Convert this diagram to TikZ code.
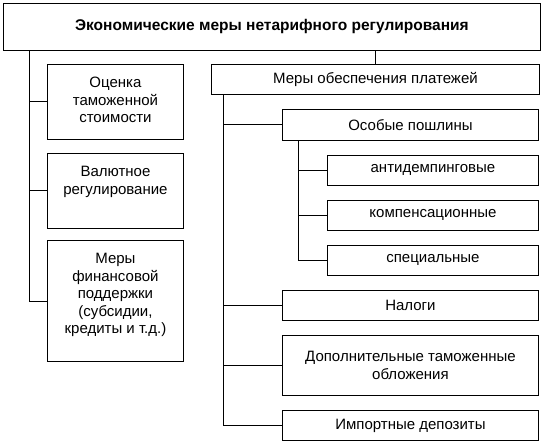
\documentclass[tikz,border=0pt]{standalone}
\usepackage{fontspec}
\setmainfont{Liberation Sans}
\usepackage{tikz}
\usetikzlibrary{positioning}

\tikzset{
  box/.style={draw, line width=0.9pt, anchor=north west, align=center, inner sep=2pt,
    font=\fontsize{15}{17.5}\selectfont},
  lbox/.style={box, minimum width=136},
  ltext/.style={anchor=north, align=center, yshift=-11pt, inner sep=2pt,
    font=\fontsize{15}{17.5}\selectfont},
  link/.style={line width=0.9pt}
}

\begin{document}
\begin{tikzpicture}[x=1pt,y=-1pt]
      \useasboundingbox (0,0) rectangle (543,446);
      % top
      \node[box, minimum width=537, minimum height=47, font=\fontsize{15.5}{17}\selectfont\bfseries] (top) at (3,3)
        {Экономические меры нетарифного регулирования};
      % left column
      \node[lbox, minimum height=75, label={[ltext]north:{Оценка\\ таможенной\\ стоимости}}] (ocen) at (47,64) {};
      \node[lbox, minimum height=75, label={[ltext]north:{Валютное\\ регулирование}}] (val) at (47,153) {};
      \node[lbox, minimum height=121,
        label={[ltext]north:{Меры\\ финансовой\\ поддержки\\ (субсидии,\\ кредиты и т.д.)}}] (fin) at (47,240) {};
      % right column
      \node[box, minimum width=328, minimum height=30] (mery) at (211,64) {Меры обеспечения платежей};
      \node[box, minimum width=256, minimum height=31] (posh) at (282,109) {Особые пошлины};
      \node[box, minimum width=211, minimum height=30] (anti) at (327,155) {антидемпинговые};
      \node[box, minimum width=211, minimum height=30] (komp) at (327,200) {компенсационные};
      \node[box, minimum width=211, minimum height=30] (spec) at (327,245) {специальные};
      \node[box, minimum width=256, minimum height=30] (nalo) at (282,290) {Налоги};
      \node[box, minimum width=256, minimum height=60] (dop) at (282,335)
        {Дополнительные таможенные\\ обложения};
      \node[box, minimum width=256, minimum height=30] (imp) at (282,410) {Импортные депозиты};

      \coordinate (lt) at (29,0);
      \coordinate (rt) at (223,0);
      \coordinate (st) at (298,0);

      \draw[link] (top.south -| lt) |- (fin.west);
      \draw[link] (ocen.west -| lt) -- (ocen.west);
      \draw[link] (val.west -| lt) -- (val.west);

      \draw[link] (top.south -| mery.north) -- (mery.north);

      \draw[link] (mery.south -| rt) |- (imp.west);
      \draw[link] (posh.west -| rt) -- (posh.west);
      \draw[link] (nalo.west -| rt) -- (nalo.west);
      \draw[link] (dop.west -| rt) -- (dop.west);

      \draw[link] (posh.south -| st) |- (spec.west);
      \draw[link] (anti.west -| st) -- (anti.west);
      \draw[link] (komp.west -| st) -- (komp.west);
\end{tikzpicture}
\end{document}
